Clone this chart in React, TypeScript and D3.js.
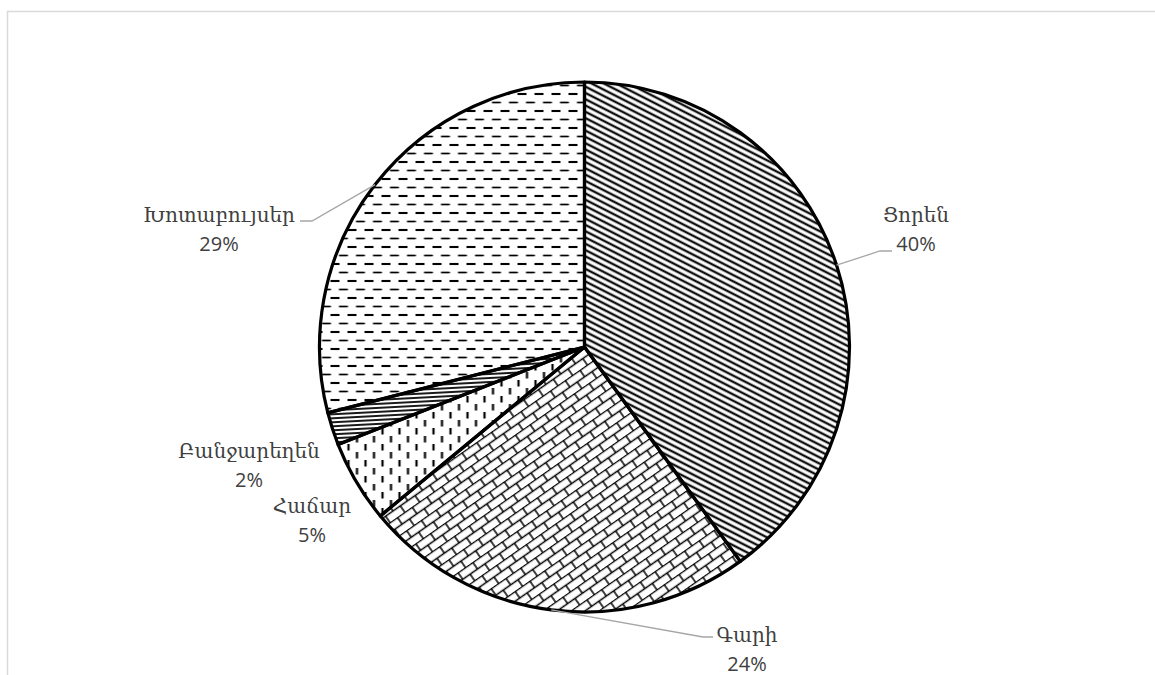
import React from "react";
import * as d3 from "d3";

const categories = ["Ցորեն", "Գարի", "Հաճար", "Բանջարեղեն", "Խոտաբույսեր"];
const values = [40, 24, 5, 2, 29];
const percentLabels = ["40%", "24%", "5%", "2%", "29%"];
const patternIds = ["pWheat", "pBarley", "pSpelt", "pVeg", "pHerbs"];

// label layout (x center, first baseline, optional leader elbow + end)
const labelLayout = [
  { x: 916, y: 222, leader: [[880, 251], [892, 251]] },
  { x: 747, y: 642, leader: [[703, 637], [713, 637]] },
  { x: 312, y: 513, leader: null },
  { x: 249, y: 458, leader: null },
  { x: 219, y: 222, leader: [[312, 221], [300, 221]] },
];

const W = 1155;
const H = 675;
const cx = 584.5;
const cy = 347;
const R = 265;

export default function App() {
  const pie = d3.pie<number>().sort(null).value((d) => d)(values);
  const arc = d3.arc<d3.PieArcDatum<number>>().innerRadius(0).outerRadius(R);
  const nameFont = "'DejaVu Serif', serif";
  const numFont = "'Open Sans', sans-serif";

  return (
    <svg
      width={W}
      height={H}
      style={{ position: "absolute", left: 0, top: 0, background: "#fff" }}
    >
      <defs>
        <pattern id="pWheat" patternUnits="userSpaceOnUse" width="10" height="5.6" patternTransform="rotate(27)">
          <line x1="0" y1="2.8" x2="10" y2="2.8" stroke="#111" strokeWidth="2.4" />
        </pattern>
        <pattern id="pBarley" patternUnits="userSpaceOnUse" width="18" height="16" patternTransform="rotate(-35)">
          <line x1="0" y1="0.5" x2="18" y2="0.5" stroke="#000" strokeWidth="1.5" />
          <line x1="0" y1="8.5" x2="18" y2="8.5" stroke="#000" strokeWidth="1.5" />
          <line x1="1" y1="0.5" x2="1" y2="8.5" stroke="#000" strokeWidth="1.5" />
          <line x1="10" y1="8.5" x2="10" y2="16.5" stroke="#000" strokeWidth="1.5" />
        </pattern>
        <pattern id="pSpelt" patternUnits="userSpaceOnUse" width="17" height="16">
          <line x1="2" y1="1" x2="2" y2="7.5" stroke="#000" strokeWidth="2.2" />
          <line x1="10.5" y1="9" x2="10.5" y2="15.5" stroke="#000" strokeWidth="2.2" />
        </pattern>
        <pattern id="pVeg" patternUnits="userSpaceOnUse" width="10" height="4" patternTransform="rotate(-3)">
          <line x1="0" y1="2" x2="10" y2="2" stroke="#000" strokeWidth="1.8" />
        </pattern>
        <pattern id="pHerbs" patternUnits="userSpaceOnUse" width="17" height="17">
          <line x1="1" y1="2" x2="10" y2="2" stroke="#000" strokeWidth="2.1" />
          <line x1="9.5" y1="10.5" x2="18.5" y2="10.5" stroke="#000" strokeWidth="1.7" />
          <line x1="-7.5" y1="10.5" x2="1.5" y2="10.5" stroke="#000" strokeWidth="1.7" />
        </pattern>
      </defs>

      {/* chart area border (clipped by the frame) */}
      <path
        d={`M7.5,${H + 5} V11.5 H${W + 5}`}
        fill="none"
        stroke="#d9d9d9"
        strokeWidth={1.5}
      />

      <g transform={`translate(${cx},${cy})`}>
        {pie.map((p, i) => (
          <path key={categories[i]} d={arc(p) || ""} fill="#fff" />
        ))}
        {pie.map((p, i) => (
          <path
            key={"f" + categories[i]}
            d={arc(p) || ""}
            fill={`url(#${patternIds[i]})`}
          />
        ))}
        {pie.map((p, i) => (
          <path
            key={"s" + categories[i]}
            d={arc(p) || ""}
            fill="none"
            stroke="#000"
            strokeWidth={3.2}
            strokeLinejoin="round"
          />
        ))}
      </g>

      {pie.map((p, i) => {
        const L = labelLayout[i];
        const mid = (p.startAngle + p.endAngle) / 2;
        const sx = cx + R * Math.sin(mid);
        const sy = cy - R * Math.cos(mid);
        return (
          <g key={"l" + i}>
            {L.leader && (
              <polyline
                points={[[sx, sy], ...L.leader].map((q) => q.join(",")).join(" ")}
                fill="none"
                stroke="#a6a6a6"
                strokeWidth={1.3}
              />
            )}
            <text
              x={L.x}
              y={L.y}
              textAnchor="middle"
              fontFamily={nameFont}
              fontSize={20}
              fill="#404040"
            >
              {categories[i]}
            </text>
            <text
              x={L.x}
              y={L.y + 29}
              textAnchor="middle"
              fontFamily={numFont}
              fontSize={20}
              fill="#404040"
            >
              {percentLabels[i]}
            </text>
          </g>
        );
      })}
    </svg>
  );
}
